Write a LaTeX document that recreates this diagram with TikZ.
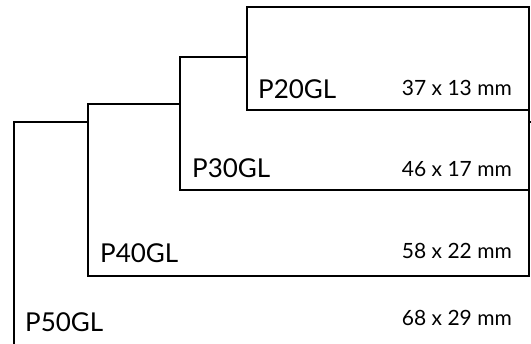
\documentclass[tikz,border=0pt]{standalone}
\usepackage{fontspec}
\setmainfont{Lato}

\begin{document}
\begin{tikzpicture}[
  x=1pt, y=-1pt,
  box/.style={draw, line width=2.1pt, fill=white, inner sep=0pt, outer sep=0pt, anchor=north west},
  code/.style={font=\fontsize{26}{30}\selectfont, anchor=base west, inner sep=0pt},
  size/.style={font=\fontsize{21}{24}\selectfont, anchor=base east, inner sep=0pt}
]
\useasboundingbox (0,0) rectangle (531,344);
\clip (0,0) rectangle (531,344);

% ----- BOXES (largest first) -----
\node[box, minimum width=540pt, minimum height=240pt] (p50) at (14,122) {};
\node[box, minimum width=441pt, minimum height=172pt] (p40) at (88,104) {};
\node[box, minimum width=349pt, minimum height=133pt] (p30) at (180,57) {};
\node[box, minimum width=282pt, minimum height=103pt] (p20) at (247,7) {};

% ----- TYPE NAMES -----
\node[code] (n20) at (258,99) {P20GL};
\node[code] (n30) at (192,178) {P30GL};
\node[code] (n40) at (100,263) {P40GL};
\node[code] (n50) at (25,332) {P50GL};

% ----- SIZES -----
\node[size] (s20) at (512,96) {37 x 13 mm};
\node[size] (s30) at (512,177) {46 x 17 mm};
\node[size] (s40) at (512,259) {58 x 22 mm};
\node[size] (s50) at (512,326) {68 x 29 mm};

\end{tikzpicture}
\end{document}
